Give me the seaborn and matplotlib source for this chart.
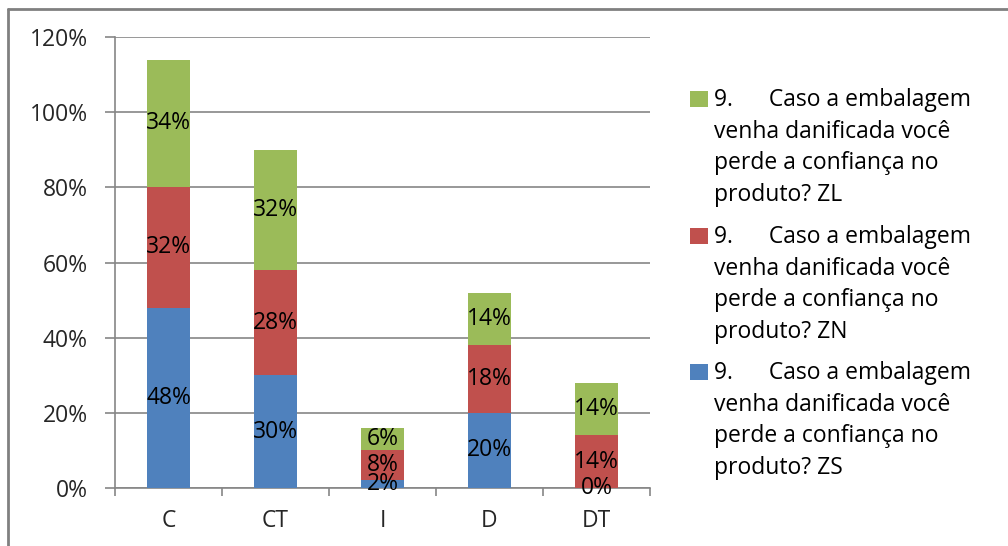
import matplotlib
matplotlib.use("Agg")
import matplotlib.pyplot as plt
import pandas as pd
import seaborn as sns
from matplotlib.patches import Rectangle
from matplotlib.lines import Line2D
from matplotlib.ticker import FuncFormatter, FixedLocator

# Data: share of answers per category, for each series
categories = ["C", "CT", "I", "D", "DT"]
zs = [48, 30, 2, 20, 0]
zn = [32, 28, 8, 18, 14]
zl = [34, 32, 6, 14, 14]
y_ticks = [0, 20, 40, 60, 80, 100, 120]
legend_labels = [
    "9.      Caso a embalagem\nvenha danificada você\nperde a confiança no\nproduto? ZL",
    "9.      Caso a embalagem\nvenha danificada você\nperde a confiança no\nproduto? ZN",
    "9.      Caso a embalagem\nvenha danificada você\nperde a confiança no\nproduto? ZS",
]

BLUE, RED, GREEN = "#4F81BD", "#C0504D", "#9BBB59"
GRID = "#868686"
FS = 16.5

sns.set_style("white")
plt.rcParams["font.family"] = ["Open Sans", "DejaVu Sans"]

df = pd.DataFrame({"cat": categories, "zs": zs, "zn": zn, "zl": zl})
df["lvl1"] = df["zs"]
df["lvl2"] = df["zs"] + df["zn"]
df["lvl3"] = df["lvl2"] + df["zl"]

W, H, DPI = 1008, 546, 100
fig = plt.figure(figsize=(W / DPI, H / DPI), dpi=DPI)
ax = fig.add_axes([115 / W, 1 - 488 / H, (650 - 115) / W, (488 - 37) / H])

# Stacked bars: draw cumulative totals back to front
for col, color in [("lvl3", GREEN), ("lvl2", RED), ("lvl1", BLUE)]:
    sns.barplot(data=df, x="cat", y=col, color=color, saturation=1,
                width=0.4, errorbar=None, ax=ax, linewidth=0, zorder=3)

# Segment value labels
for i in range(len(categories)):
    for base, val in [(0, zs[i]), (zs[i], zn[i]), (zs[i] + zn[i], zl[i])]:
        ax.text(i, base + val / 2, f"{val}%", ha="center", va="center",
                fontsize=FS, color="black", zorder=5)

ax.set_xlim(-0.5, len(categories) - 0.5)
ax.set_ylim(0, 120)
ax.set_xlabel("")
ax.set_ylabel("")

# Axes styling
ax.yaxis.set_major_locator(FixedLocator(y_ticks))
ax.yaxis.set_major_formatter(FuncFormatter(lambda v, p: f"{int(v)}%"))
ax.grid(axis="y", color=GRID, linewidth=1.2, zorder=0)
ax.set_axisbelow(True)
for s in ["top", "right"]:
    ax.spines[s].set_visible(False)
for s in ["left", "bottom"]:
    ax.spines[s].set_color(GRID)
    ax.spines[s].set_linewidth(1.2)

ax.tick_params(axis="y", which="major", direction="out", length=7.5,
               width=1.2, color=GRID, pad=12, labelsize=FS, left=True)
ax.set_xticks([x - 0.5 for x in range(len(categories) + 1)])
ax.set_xticklabels([])
ax.set_xticks(range(len(categories)), minor=True)
ax.set_xticklabels(categories, minor=True)
ax.tick_params(axis="x", which="major", direction="out", length=6,
               width=1.2, color=GRID, bottom=True)
ax.tick_params(axis="x", which="minor", length=0, pad=15, labelsize=FS)

# Legend drawn in figure coordinates
handle_colors = [GREEN, RED, BLUE]
entry_tops = [91, 228, 364]
for color, top, label in zip(handle_colors, entry_tops, legend_labels):
    fig.patches.append(Rectangle((690 / W, 1 - (top + 16) / H), 18 / W, 16 / H,
                                 transform=fig.transFigure, facecolor=color,
                                 edgecolor="none"))
    fig.text(714 / W, 1 - (top - 3) / H, label, ha="left", va="top",
             fontsize=FS, linespacing=1.42, color="black")

# Outer frame (top and left edges)
fig.lines.append(Line2D([8 / W, 1], [1 - 9 / H, 1 - 9 / H], transform=fig.transFigure,
                        color="#808080", linewidth=2))
fig.lines.append(Line2D([8 / W, 8 / W], [0, 1 - 9 / H], transform=fig.transFigure,
                        color="#808080", linewidth=2))

fig.savefig("out.png", dpi=DPI)
